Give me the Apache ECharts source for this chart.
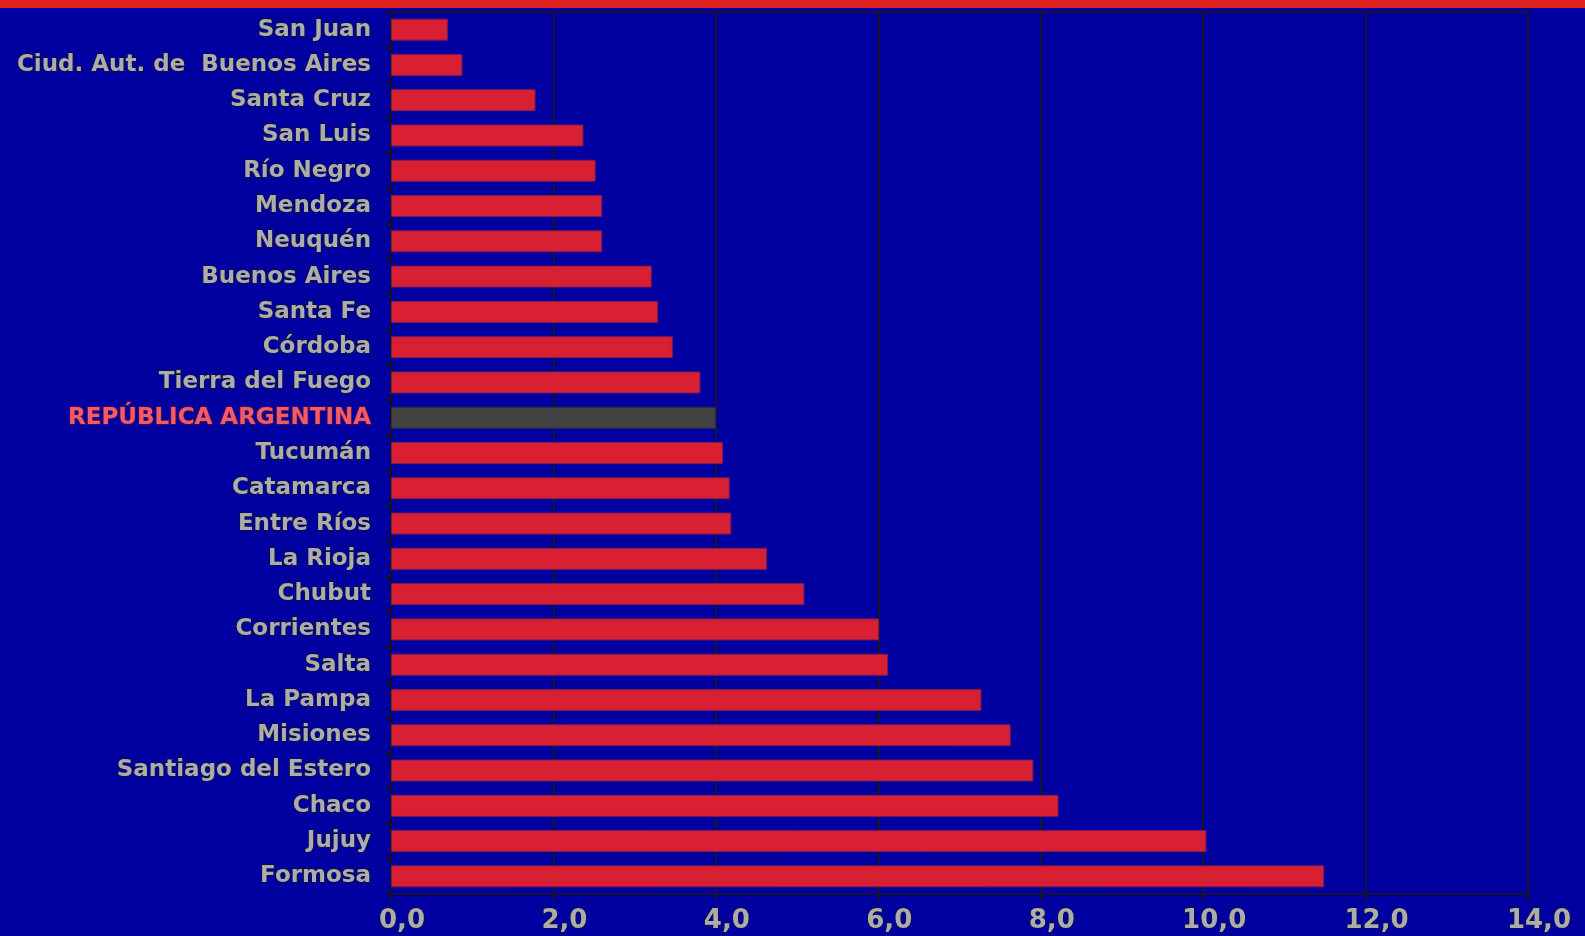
<!DOCTYPE html>
<html>
<head>
<meta charset="utf-8">
<script src="https://cdn.jsdelivr.net/npm/echarts@6/dist/echarts.min.js"></script>
<style>
  html, body { margin: 0; padding: 0; background: #0000a0; }
  #chart { width: 1585px; height: 936px; }
</style>
</head>
<body>
<div id="chart"></div>
<script>
// Provinces, top to bottom
const provinces = [
  'San Juan', 'Ciud. Aut. de  Buenos Aires', 'Santa Cruz', 'San Luis', 'Río Negro',
  'Mendoza', 'Neuquén', 'Buenos Aires', 'Santa Fe', 'Córdoba', 'Tierra del Fuego',
  'REPÚBLICA ARGENTINA', 'Tucumán', 'Catamarca', 'Entre Ríos', 'La Rioja', 'Chubut',
  'Corrientes', 'Salta', 'La Pampa', 'Misiones', 'Santiago del Estero', 'Chaco',
  'Jujuy', 'Formosa'
];
const values = [
  0.70, 0.88, 1.78, 2.37, 2.52,
  2.60, 2.60, 3.21, 3.29, 3.47, 3.81,
  4.00, 4.09, 4.17, 4.19, 4.63, 5.09,
  6.01, 6.12, 7.27, 7.63, 7.91, 8.22,
  10.04, 11.49
];
const nationalLabel = 'REPÚBLICA ARGENTINA';
const xTicks = { min: 0, max: 14, interval: 2 };

const chart = echarts.init(document.getElementById('chart'), null, { renderer: 'canvas' });

const labelFont = {
  fontFamily: 'DejaVu Sans',
  fontWeight: 'bold',
  fontSize: 23,
  color: '#acacac',
  textBorderColor: 'rgba(20,20,35,0.85)',
  textBorderWidth: 1.5
};

const axisData = provinces.map(p => p === nationalLabel
  ? { value: p, textStyle: { color: '#f25a66', textBorderColor: 'rgba(110,20,50,0.8)' } }
  : p);

const barData = provinces.map((p, i) => p === nationalLabel
  ? { value: values[i], itemStyle: { color: '#424242', borderColor: '#2c2c44' } }
  : values[i]);

chart.setOption({
  backgroundColor: '#0000a0',
  animation: false,
  graphic: [{
    type: 'rect',
    left: 0, top: 0,
    shape: { width: 1585, height: 8 },
    style: { fill: '#e01f1f' }
  }],
  grid: {
    left: 391, right: 57, top: 12, bottom: 42,
    show: true,
    borderColor: '#161628',
    borderWidth: 2,
    containLabel: false
  },
  xAxis: {
    type: 'value',
    min: xTicks.min, max: xTicks.max, interval: xTicks.interval,
    axisLine: { show: true, lineStyle: { color: '#161628', width: 2 } },
    axisTick: { show: true, length: 7, lineStyle: { color: '#161628', width: 2 } },
    splitLine: { show: true, lineStyle: { color: '#161628', width: 2 } },
    axisLabel: Object.assign({}, labelFont, {
      fontSize: 26,
      margin: 14,
      padding: [0, 0, 0, 22],
      formatter: v => v.toFixed(1).replace('.', ',')
    })
  },
  yAxis: {
    type: 'category',
    inverse: true,
    data: axisData,
    axisLine: { show: true, lineStyle: { color: '#111122', width: 2 } },
    axisTick: { show: true, length: 6, lineStyle: { color: '#111122', width: 2 } },
    splitLine: { show: false },
    axisLabel: Object.assign({}, labelFont, { margin: 20 })
  },
  series: [{
    type: 'bar',
    data: barData,
    barWidth: 22,
    itemStyle: { color: '#d92033', borderColor: '#7a1a5a', borderWidth: 1 }
  }]
});
</script>
</body>
</html>
